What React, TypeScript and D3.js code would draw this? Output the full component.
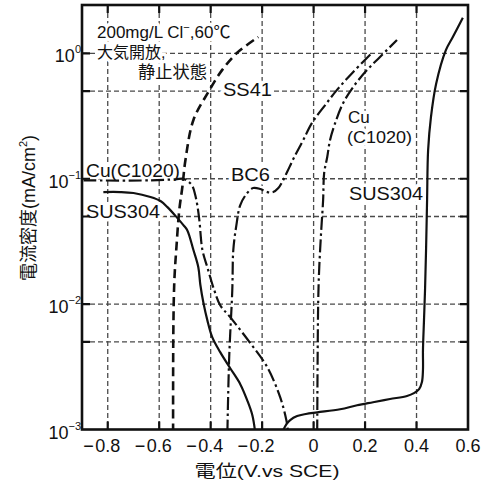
import React from "react";
import * as d3 from "d3";

// ---- data (potential V vs SCE, current density mA/cm2) ----
const xTickValues = [-0.8, -0.6, -0.4, -0.2, 0, 0.2, 0.4, 0.6];
const xGridValues = [-0.8, -0.6, -0.4, -0.2, 0, 0.2, 0.4];
const yDecades = [1, 0.1, 0.01, 0.001];
const yDecadeExponents = ["0", "−1", "−2", "−3"];
const yGridValues = [1, 0.5, 0.1, 0.05, 0.01, 0.005];

const ss41Potential = [-0.546, -0.545, -0.541, -0.533, -0.522, -0.51, -0.498, -0.467, -0.409, -0.355, -0.297, -0.215];
const ss41Current = [0.00095, 0.0062, 0.0156, 0.0285, 0.0562, 0.0859, 0.141, 0.294, 0.492, 0.738, 1.01, 1.35];

const cuCathPotential = [-0.894, -0.634, -0.537, -0.506, -0.487, -0.471, -0.46, -0.452, -0.444, -0.432, -0.413, -0.386, -0.363, -0.324, -0.246, -0.18, -0.13, -0.106, -0.099];
const cuCathCurrent = [0.097, 0.097, 0.099, 0.1, 0.095, 0.0875, 0.0741, 0.0617, 0.0468, 0.027, 0.0197, 0.0129, 0.0098, 0.00787, 0.00489, 0.00314, 0.00181, 0.00119, 0.00095];

const cuAnodPotential = [0.014, 0.018, 0.022, 0.029, 0.037, 0.041, 0.053, 0.064, 0.084, 0.115, 0.154, 0.208, 0.258, 0.324];
const cuAnodCurrent = [0.00095, 0.01076, 0.0197, 0.0368, 0.0676, 0.111, 0.149, 0.204, 0.279, 0.402, 0.54, 0.738, 0.935, 1.28];

const bc6Potential = [-0.335, -0.328, -0.316, -0.312, -0.3, -0.285, -0.258, -0.235, -0.207, -0.18, -0.157, -0.137, -0.122, -0.103, -0.075, -0.04, -0.006, 0.045, 0.091, 0.154, 0.227];
const bc6Current = [0.00095, 0.00378, 0.0129, 0.027, 0.0427, 0.0617, 0.0769, 0.0843, 0.0828, 0.0783, 0.0783, 0.0843, 0.0942, 0.113, 0.149, 0.204, 0.279, 0.387, 0.511, 0.711, 1.01];

const susCathPotential = [-0.817, -0.751, -0.7, -0.634, -0.595, -0.568, -0.529, -0.506, -0.491, -0.467, -0.448, -0.44, -0.428, -0.413, -0.394, -0.363, -0.324, -0.285, -0.258, -0.238, -0.227];
const susCathCurrent = [0.0783, 0.0783, 0.0769, 0.0715, 0.0664, 0.0594, 0.0485, 0.0427, 0.0389, 0.027, 0.0197, 0.0142, 0.0102, 0.00745, 0.00546, 0.00414, 0.00308, 0.0023, 0.00171, 0.0013, 0.00095];

const susAnodPotential = [-0.122, -0.106, -0.091, -0.064, -0.03, 0.014, 0.103, 0.169, 0.231, 0.297, 0.363, 0.39, 0.41, 0.421, 0.425, 0.425, 0.429, 0.433, 0.437, 0.441, 0.445, 0.456, 0.476, 0.514, 0.541, 0.58];
const susAnodCurrent = [0.00095, 0.0011, 0.00119, 0.00128, 0.00133, 0.00137, 0.00145, 0.00156, 0.00165, 0.00175, 0.00185, 0.00195, 0.0021, 0.00239, 0.00298, 0.0043, 0.00745, 0.0129, 0.027, 0.0676, 0.169, 0.31, 0.57, 1.06, 1.35, 1.92];

const FONT = "'Liberation Sans', Arial, 'Noto Sans CJK JP', sans-serif";

export default function App() {
  const W = 496;
  const H = 484;
  const left = 82, right = 468, top = 5, bottom = 429.5;
  const x = d3.scaleLinear().domain([-0.9, 0.6]).range([left, right]);
  const y = d3.scaleLog().domain([0.001, 2.43]).range([bottom, top]);
  const line = d3
    .line<[number, number]>()
    .x((d) => x(d[0]))
    .y((d) => y(d[1]))
    .curve(d3.curveCatmullRom.alpha(0.5));
  const mk = (p: number[], c: number[]) => line(p.map((v, i) => [v, c[i]] as [number, number])) || "";

  const dashDot = "13,3.5,2.5,3.5";
  const tick = 8;

  const gridPath =
    xGridValues.map((v) => `M${x(v)},${top}V${bottom}`).join("") +
    yGridValues.map((v) => `M${left},${y(v)}H${right}`).join("");
  const tickPath =
    xGridValues.map((v) => `M${x(v)},${bottom}v${-tick}M${x(v)},${top}v${tick}`).join("") +
    yGridValues.map((v) => `M${left},${y(v)}h${tick}M${right},${y(v)}h${-tick}`).join("");

  const labels: { t: React.ReactNode; x: number; y: number; size: number; len?: number }[] = [
    { t: "大気開放,", x: 97, y: 58, size: 16 },
    { t: "静止状態", x: 138, y: 78, size: 17, len: 69 },
    { t: "SS41", x: 223, y: 96, size: 18, len: 49 },
    { t: "BC6", x: 231, y: 181, size: 18, len: 39 },
    { t: "Cu", x: 348, y: 123, size: 17 },
    { t: "(C1020)", x: 347, y: 143, size: 17, len: 65 },
    { t: "SUS304", x: 349, y: 200, size: 18, len: 74 },
    { t: "Cu(C1020)", x: 86, y: 177, size: 18, len: 94 },
    { t: "SUS304", x: 86, y: 218, size: 18, len: 74 },
  ];

  const haloProps = (halo: boolean) => ({
    fill: halo ? "#ffffff" : "#111111",
    stroke: halo ? "#ffffff" : "none",
    strokeWidth: halo ? 7 : 0,
    strokeLinejoin: "round" as const,
  });

  const renderLabel = (l: (typeof labels)[number], i: number, halo: boolean) => (
    <text
      key={i}
      x={l.x}
      y={l.y}
      fontSize={l.size}
      textLength={l.len}
      lengthAdjust={l.len ? "spacingAndGlyphs" : undefined}
      {...haloProps(halo)}
    >
      {l.t}
    </text>
  );

  const title = (halo: boolean) => (
    <text x={97} y={38} fontSize={17} {...haloProps(halo)}>
      <tspan>200mg/L Cl</tspan>
      <tspan fontSize={11} dy={-7}>−</tspan>
      <tspan dy={7}>,60℃</tspan>
    </text>
  );

  return (
    <svg
      width={W}
      height={H}
      viewBox={`0 0 ${W} ${H}`}
      style={{ position: "absolute", left: 0, top: 0, background: "#ffffff", display: "block" }}
      fontFamily={FONT}
    >
      <defs>
        <clipPath id="plotClip">
          <rect x={left} y={top} width={right - left} height={bottom - top} />
        </clipPath>
      </defs>

      {/* grid */}
      <path d={gridPath} fill="none" stroke="#4a4a4a" strokeWidth={1.3} strokeDasharray="5 3" />

      {/* label halos masking grid */}
      <g>
        {title(true)}
        {labels.map((l, i) => renderLabel(l, i, true))}
      </g>

      {/* curves */}
      <g clipPath="url(#plotClip)" fill="none" stroke="#111111" strokeLinecap="butt" strokeLinejoin="round">
        <path d={mk(ss41Potential, ss41Current)} strokeWidth={2.6} strokeDasharray="9,5" />
        <path d={mk(cuCathPotential, cuCathCurrent)} strokeWidth={2.2} strokeDasharray={dashDot} />
        <path d={mk(cuAnodPotential, cuAnodCurrent)} strokeWidth={2.2} strokeDasharray={dashDot} />
        <path d={mk(bc6Potential, bc6Current)} strokeWidth={2.2} strokeDasharray={dashDot} />
        <path d={mk(susCathPotential, susCathCurrent)} strokeWidth={2.2} />
        <path d={mk(susAnodPotential, susAnodCurrent)} strokeWidth={2.2} />
      </g>

      {/* frame & ticks */}
      <path d={tickPath} fill="none" stroke="#111111" strokeWidth={2.2} />
      <rect x={left} y={top} width={right - left} height={bottom - top} fill="none" stroke="#111111" strokeWidth={2.6} />

      {/* x tick labels */}
      <g fontSize={18} fill="#111111">
        {xTickValues.map((v) => {
          const s = Math.abs(v) === 0 ? "0" : Math.abs(v).toFixed(1);
          return (
            <g key={"xl" + v}>
              <text x={x(v)} y={452} textAnchor="middle">{s}</text>
              {v < 0 && (
                <text x={x(v) - 14} y={452} textAnchor="end">−</text>
              )}
            </g>
          );
        })}
      </g>

      {/* y tick labels */}
      <g fill="#111111">
        {yDecades.map((v, i) => (
          <text key={"yl" + v} x={81} y={y(v) + 9} textAnchor="end" fontSize={18}>
            <tspan>10</tspan>
            <tspan fontSize={11} dy={-9}>{yDecadeExponents[i]}</tspan>
          </text>
        ))}
      </g>

      {/* labels */}
      <g>
        {title(false)}
        {labels.map((l, i) => renderLabel(l, i, false))}
      </g>

      {/* axis titles */}
      <text x={267} y={477} textAnchor="middle" fontSize={17} textLength={145} lengthAdjust="spacingAndGlyphs" fill="#111111">
        電位(V.vs SCE)
      </text>
      <text transform="translate(35,208) rotate(-90)" textAnchor="middle" fontSize={18} fill="#111111">
        <tspan>電流密度(mA/cm</tspan>
        <tspan fontSize={11} dy={-8}>2</tspan>
        <tspan dy={8}>)</tspan>
      </text>
    </svg>
  );
}
